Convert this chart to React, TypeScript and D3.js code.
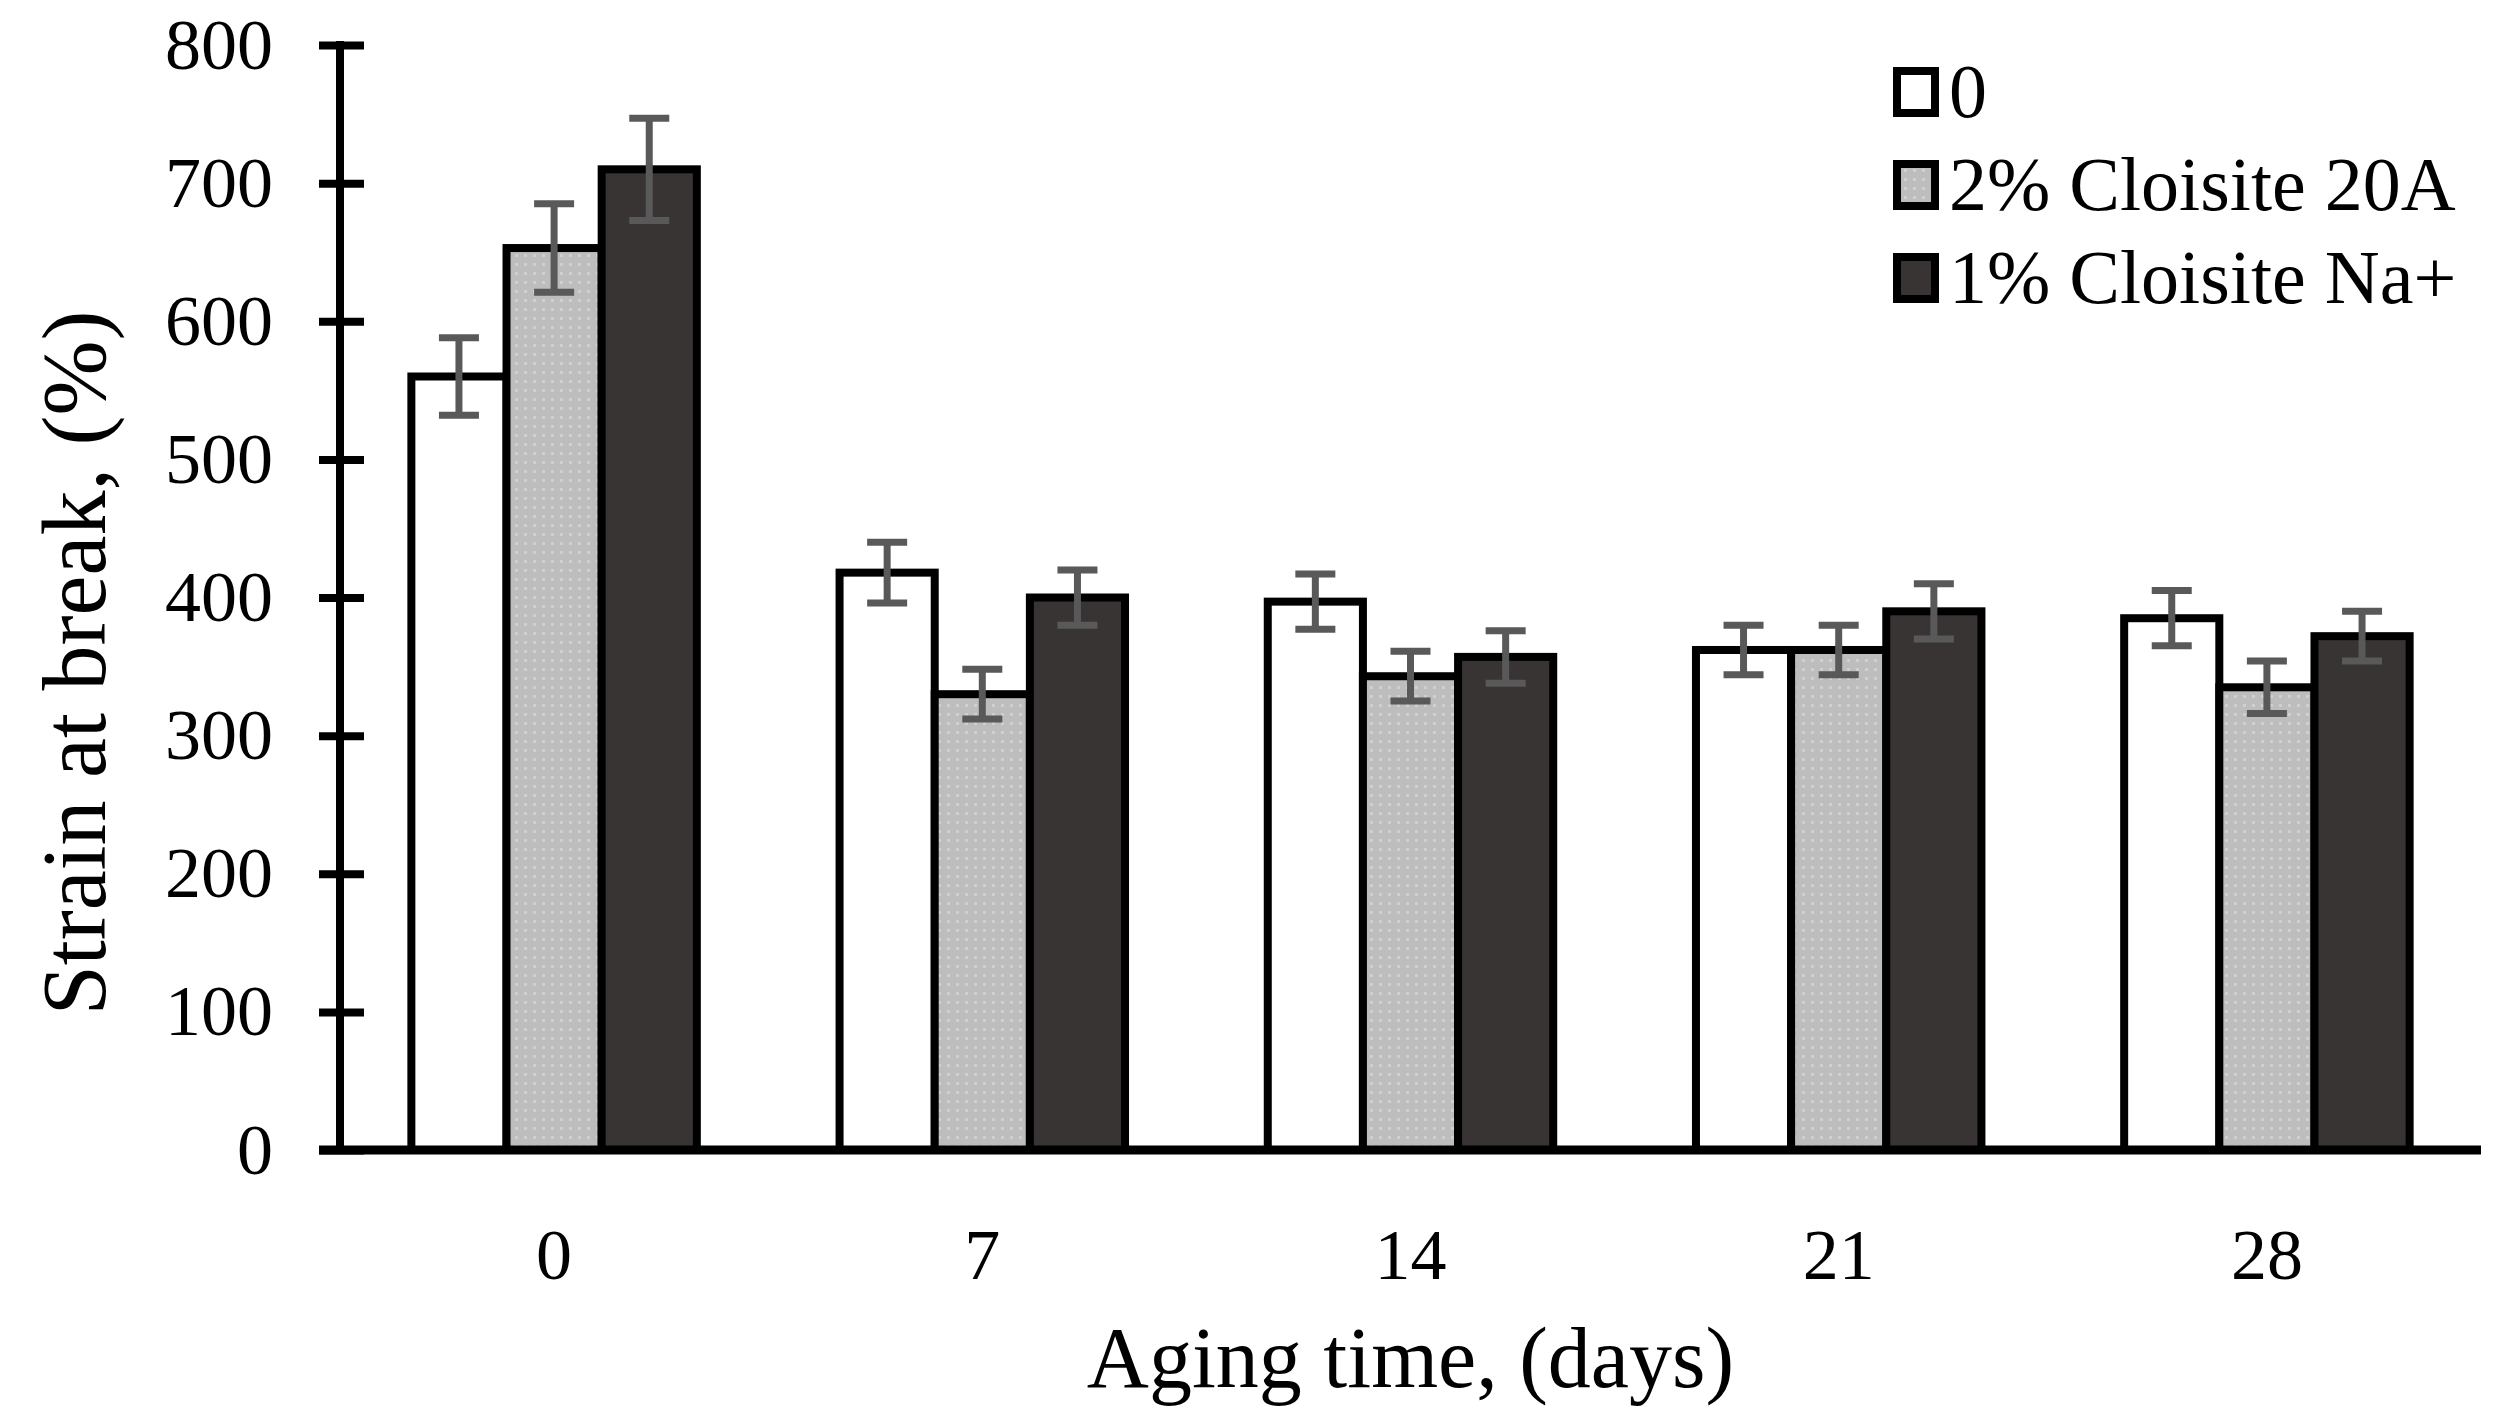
import * as d3 from 'd3'
import { useEffect, useRef } from 'react'

const categories = ['0', '7', '14', '21', '28']
const seriesNames = ['0', '2% Cloisite 20A', '1% Cloisite Na+']
const values0 = [560, 418, 397, 362, 385]
const values20A = [653, 330, 343, 362, 335]
const valuesNa = [710, 400, 357, 390, 372]
const err0 = [28, 22, 20, 18, 20]
const err20A = [32, 18, 18, 18, 19]
const errNa = [37, 20, 19, 20, 18]
const yTicks = [0, 100, 200, 300, 400, 500, 600, 700, 800]

const W = 2510
const H = 1427
const FONT = '"Liberation Serif", "Times New Roman", serif'

const App = () => {
  const ref = useRef<SVGSVGElement>(null)

  useEffect(() => {
    const svg = d3.select(ref.current)
    svg.selectAll('*').remove()

    const plot = { left: 340, right: 2481, top: 45, bottom: 1150 }
    const x = d3.scaleBand().domain(categories).range([plot.left, plot.right])
    const xs = d3.scaleBand().domain(seriesNames).range([0, x.bandwidth()]).paddingOuter(0.75)
    const y = d3.scaleLinear().domain([0, 800]).range([plot.bottom, plot.top])

    const fills = ['#ffffff', 'url(#dots)', '#383433']

    // dotted fill for the grey series
    const defs = svg.append('defs')
    const pat = defs.append('pattern').attr('id', 'dots').attr('patternUnits', 'userSpaceOnUse')
      .attr('width', 9).attr('height', 9)
    pat.append('rect').attr('width', 9).attr('height', 9).attr('fill', '#bdbdbd')
    pat.append('rect').attr('x', 2).attr('y', 2).attr('width', 3).attr('height', 3).attr('fill', '#cfcfcf')

    const data = [values0, values20A, valuesNa]
    const errs = [err0, err20A, errNa]

    // bars
    data.forEach((vals, s) => {
      svg.append('g').selectAll('rect').data(vals).enter().append('rect')
        .attr('x', (d, i) => (x(categories[i]) as number) + (xs(seriesNames[s]) as number))
        .attr('y', d => y(d))
        .attr('width', xs.bandwidth())
        .attr('height', d => y(0) - y(d))
        .attr('fill', fills[s])
        .attr('stroke', '#000').attr('stroke-width', 8)
    })

    // error bars
    data.forEach((vals, s) => {
      const g = svg.append('g').attr('stroke', '#595959').attr('stroke-width', 7)
      vals.forEach((v, i) => {
        const cx = (x(categories[i]) as number) + (xs(seriesNames[s]) as number) + xs.bandwidth() / 2
        const e = errs[s][i]
        g.append('line').attr('x1', cx).attr('x2', cx).attr('y1', y(v + e)).attr('y2', y(v - e))
        g.append('line').attr('x1', cx - 20).attr('x2', cx + 20).attr('y1', y(v + e)).attr('y2', y(v + e))
        g.append('line').attr('x1', cx - 20).attr('x2', cx + 20).attr('y1', y(v - e)).attr('y2', y(v - e))
      })
    })

    // y axis with crossing ticks
    const ya = svg.append('g').attr('transform', `translate(${plot.left},0)`)
      .call(d3.axisLeft(y).tickValues(yTicks).tickSize(0).tickPadding(67).tickFormat(d3.format('d')))
    ya.select('.domain').remove()
    ya.append('line').attr('x1', 0).attr('x2', 0).attr('y1', plot.top - 4).attr('y2', plot.bottom)
      .attr('stroke', '#000').attr('stroke-width', 8)
    ya.selectAll('.tick').append('line').attr('x1', -21).attr('x2', 24)
      .attr('stroke', '#000').attr('stroke-width', 8)
    ya.selectAll('.tick text').attr('font-family', FONT).attr('font-size', 72).attr('fill', '#000')

    // x axis
    const xa = svg.append('g').attr('transform', `translate(0,${plot.bottom})`)
      .call(d3.axisBottom(x).tickSize(0).tickPadding(78))
    xa.select('.domain').remove()
    xa.append('line').attr('x1', plot.left - 21).attr('x2', plot.right).attr('y1', 0).attr('y2', 0)
      .attr('stroke', '#000').attr('stroke-width', 9)
    xa.selectAll('.tick text').attr('font-family', FONT).attr('font-size', 72).attr('fill', '#000')

    // axis titles
    svg.append('text').attr('x', (plot.left + plot.right) / 2).attr('y', 1387)
      .attr('text-anchor', 'middle').attr('font-family', FONT).attr('font-size', 86)
      .text('Aging time, (days)')
    svg.append('text').attr('transform', `translate(105,663) rotate(-90)`)
      .attr('text-anchor', 'middle').attr('font-family', FONT).attr('font-size', 90)
      .text('Strain at break, (%)')

    // legend
    const lg = svg.append('g').attr('transform', 'translate(1893,92)')
    seriesNames.forEach((name, s) => {
      const row = lg.append('g').attr('transform', `translate(0,${s * 93})`)
      row.append('rect').attr('x', 4).attr('y', -21).attr('width', 38).attr('height', 42)
        .attr('fill', fills[s]).attr('stroke', '#000').attr('stroke-width', 8)
      row.append('text').attr('x', 56).attr('y', 25).attr('font-family', FONT).attr('font-size', 76)
        .text(name)
    })
  }, [])

  return (
    <svg ref={ref} width={W} height={H} viewBox={`0 0 ${W} ${H}`}
      style={{ position: 'absolute', left: 0, top: 0, background: '#fff' }} />
  )
}

export default App
